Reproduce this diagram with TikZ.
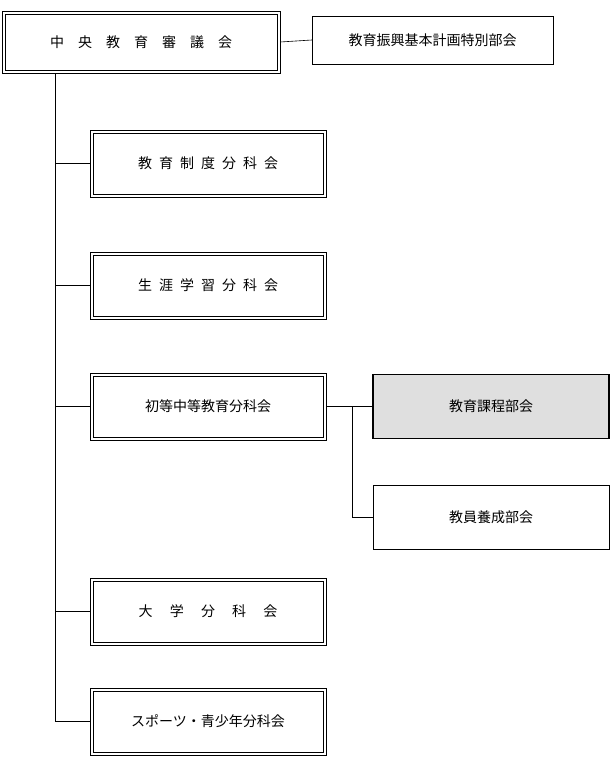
\documentclass[tikz,border=0pt]{standalone}
\usepackage{fontspec}
\setmainfont{Noto Sans CJK JP}
\usetikzlibrary{positioning}

\begin{document}
\begin{tikzpicture}[x=1pt,y=-1pt,semithick,font=\fontsize{14}{16}\selectfont]
  \tikzstyle{council}=[draw,thin,minimum width=236pt,minimum height=67pt,inner sep=0pt]
  \tikzstyle{subbox}=[draw,thin,minimum width=236pt,minimum height=64pt,inner sep=0pt]
  \useasboundingbox (0,0) rectangle (611,758);

  \node[council,minimum width=278pt,minimum height=62pt] (main) at (141,42) {中\quad 央\quad 教\quad 育\quad 審\quad 議\quad 会};
  \node[subbox,minimum width=241pt,minimum height=48pt] (plan) at (432.5,40) {教育振興基本計画特別部会};

  \node[council] (seido)   at (208,163.5) {教\enspace 育\enspace 制\enspace 度\enspace 分\enspace 科\enspace 会};
  \node[council] (shogai)  at (208,285.5) {生\enspace 涯\enspace 学\enspace 習\enspace 分\enspace 科\enspace 会};
  \node[council] (shoto)   at (208,406.5) {初等中等教育分科会};
  \node[council] (daigaku) at (208,611.5) {大\quad\ 学\quad\ 分\quad\ 科\quad\ 会};
  \node[council] (sports)  at (208,721.5) {スポーツ・青少年分科会};

  % inner lines of the double borders
  \foreach \n in {main,seido,shogai,shoto,daigaku,sports}
    \draw[thin] ([shift={(3,3)}]\n.north west) rectangle ([shift={(-3,-3)}]\n.south east);

  \node[subbox,fill=gray!25,very thick] (katei) at (491,406.5) {教育課程部会};
  \node[subbox] (kyoin) at (491,517) {教員養成部会};

  \coordinate (trunk) at (55,721.5);
  \coordinate (fork) at (352,406.5);

  \draw (main.east) -- (plan.west);
  \draw (main.south -| trunk) -- (trunk);
  \foreach \n in {seido,shogai,shoto,daigaku,sports}
    \draw (\n.west -| trunk) -- (\n.west);
  \draw (shoto.east) -- (katei.west);
  \draw (fork) |- (kyoin.west);
\end{tikzpicture}
\end{document}
